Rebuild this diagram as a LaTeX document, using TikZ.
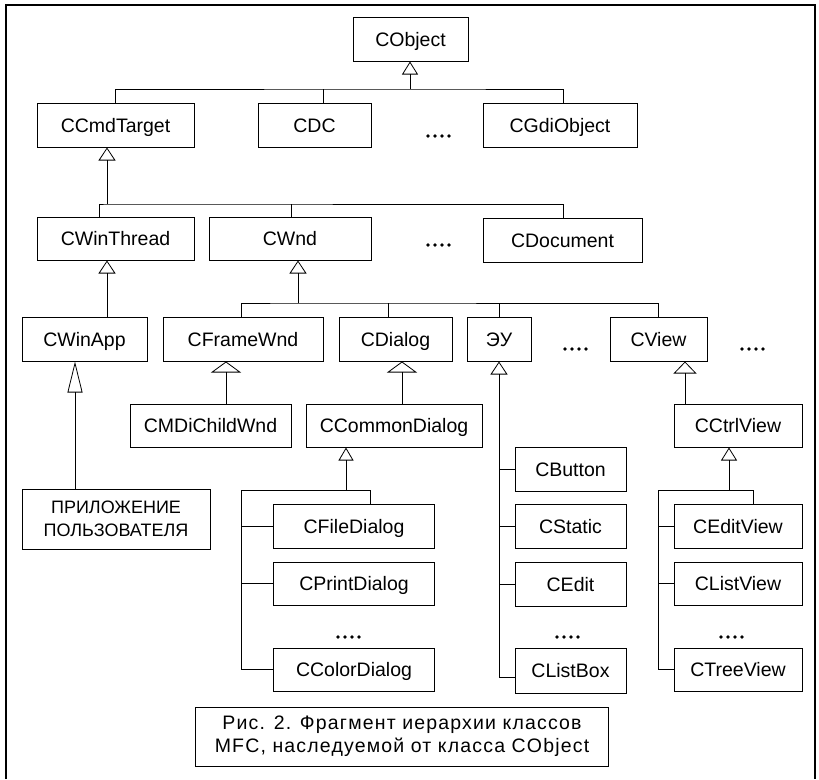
\documentclass[tikz,border=0pt]{standalone}
\usepackage{fontspec}
\setmainfont{Liberation Sans}
\usetikzlibrary{arrows.meta}
\begin{document}
\begin{tikzpicture}[x=1pt,y=-1pt,
  box/.style={draw, line width=1pt, minimum height=44pt, inner sep=0pt, text height=14pt, text depth=0pt, font=\fontsize{19.5}{21}\selectfont},
  twoline/.style={text height=, text depth=, align=center},
  conn/.style={line width=0.8pt},
  inh/.style={line width=0.8pt, -{Triangle[open, width=#1, length=13pt, line width=0.8pt]}},
  inh/.default=17pt,
  dot/.style={fill, circle, inner sep=0pt, minimum size=3.8pt},
  frame/.style={line width=1.2pt}]
\useasboundingbox (0,0) rectangle (819,779);
% frame
\draw[frame] (6,779) -- (6,5) -- (815,5) -- (815,779);
% row 0
\node[box, minimum width=115pt] (cobj) at (410.5,39) {CObject};
% row 1
\node[box, minimum width=157pt] (cmd) at (115.5,125) {CCmdTarget};
\node[box, minimum width=113pt] (cdc) at (314.5,125) {CDC};
\node[box, minimum width=154pt] (gdi) at (560,125) {CGdiObject};
% row 2
\node[box, minimum width=157pt, minimum height=43pt] (thr) at (115.5,238.5) {CWinThread};
\node[box, minimum width=162pt, minimum height=43pt] (wnd) at (290,238.5) {CWnd};
\node[box, minimum width=159pt] (doc) at (562.5,240) {CDocument};
% row 3
\node[box, minimum width=125pt] (app) at (84.5,339) {CWinApp};
\node[box, minimum width=160pt] (frm) at (243,339) {CFrameWnd};
\node[box, minimum width=113pt] (dlg) at (395.5,339) {CDialog};
\node[box, minimum width=64pt] (eu) at (499,339) {ЭУ};
\node[box, minimum width=97pt] (view) at (658.5,339) {CView};
% row 4
\node[box, twoline, minimum width=188pt, minimum height=60pt, font=\fontsize{18}{23}\selectfont] (usr) at (116,519) {ПРИЛОЖЕНИЕ\\ПОЛЬЗОВАТЕЛЯ};
\node[box, minimum width=161pt, minimum height=43pt] (mdi) at (210.5,425.5) {CMDiChildWnd};
\node[box, minimum width=176pt, minimum height=43pt] (cdl) at (394,425.5) {CCommonDialog};
\node[box, minimum width=128pt, minimum height=43pt] (ctv) at (738,425.5) {CCtrlView};
% dialogs column
\node[box, minimum width=161pt] (fdl) at (354,526) {CFileDialog};
\node[box, minimum width=161pt, minimum height=43pt] (pdl) at (354,583.5) {CPrintDialog};
\node[box, minimum width=161pt, minimum height=43pt] (coldl) at (354,669.5) {CColorDialog};
% controls column
\node[box, minimum width=111pt] (btn) at (570.5,469) {CButton};
\node[box, minimum width=111pt] (sta) at (570.5,526) {CStatic};
\node[box, minimum width=111pt] (edt) at (570.5,584) {CEdit};
\node[box, minimum width=111pt, minimum height=45pt] (lbx) at (570.5,670.5) {CListBox};
% views column
\node[box, minimum width=128pt] (ev) at (738,526) {CEditView};
\node[box, minimum width=128pt, minimum height=43pt] (lv) at (738,583.5) {CListView};
\node[box, minimum width=128pt, minimum height=43pt] (tv) at (738,669.5) {CTreeView};
% caption
\node[box, twoline, minimum width=413pt, minimum height=59pt, font=\fontsize{19.5}{23}\selectfont\addfontfeatures{LetterSpace=6}] (cap) at (402,736.5) {Рис. 2. Фрагмент иерархии классов\\MFC, наследуемой от класса CObject};

% coordinates for buses
\coordinate (b0) at (410,89);
\coordinate (b1) at (107,204);
\coordinate (b2) at (298,303);
\coordinate (b3) at (346,490);
\coordinate (b4) at (729,490);
\coordinate (e0) at (499,677);

% level 0 -> 1
\draw[inh=16pt] (b0) -- (b0 |- cobj.south);
\draw[conn] (cmd.north -| 115,0) |- (b0) -| (gdi.north -| 563,0);
\draw[conn] (cdc.north -| 323,0) -- (323,89);
% CCmdTarget -> row2
\draw[inh] (b1) -- (b1 |- cmd.south);
\draw[conn] (thr.north -| 99,0) |- (b1) -| (doc.north -| 563,0);
\draw[conn] (wnd.north -| 291,0) -- (291,204);
% CWinThread -> CWinApp
\draw[inh] (app.north -| 107,0) -- (thr.south -| 107,0);
% CWnd -> row3
\draw[inh] (b2) -- (b2 |- wnd.south);
\draw[conn] (frm.north -| 241,0) |- (b2) -| (view.north -| 658,0);
\draw[conn] (dlg.north -| 388,0) -- (388,303);
\draw[conn] (eu.north) -- (499,303);
% CWinApp -> user app
\draw[line width=0.8pt, -{Triangle[open, width=15pt, length=31pt, line width=0.8pt]}] (usr.north -| 75,0) -- (app.south -| 75,0);
% CFrameWnd -> CMDiChildWnd
\draw[line width=0.8pt, -{Triangle[open, width=30pt, length=11pt, line width=0.8pt]}] (mdi.north -| 226,0) -- (frm.south -| 226,0);
% CDialog -> CCommonDialog
\draw[line width=0.8pt, -{Triangle[open, width=30pt, length=11pt, line width=0.8pt]}] (cdl.north -| 402,0) -- (dlg.south -| 402,0);
% CCommonDialog -> dialogs
\draw[inh=15pt] (b3) -- (b3 |- cdl.south);
\draw[conn] (coldl.west) -| (241,490) -| (fdl.north -| 370,0);
\draw[conn] (241,526) -- (fdl.west);
\draw[conn] (241,583.5) -- (pdl.west);
% ЭУ -> controls
\draw[inh] (e0) -- (e0 |- eu.south);
\draw[conn] (e0) -- (lbx.west |- e0);
\draw[conn] (499,469) -- (btn.west);
\draw[conn] (499,526) -- (sta.west);
\draw[conn] (499,584) -- (edt.west);
% CView -> CCtrlView
\draw[line width=0.8pt, -{Triangle[open, width=23pt, length=12pt, line width=0.8pt]}] (ctv.north -| 685,0) -- (view.south -| 685,0);
% CCtrlView -> views
\draw[inh=16pt] (b4) -- (b4 |- ctv.south);
\draw[conn] (tv.west) -| (658,490) -| (ev.north -| 753,0);
\draw[conn] (658,526) -- (ev.west);
\draw[conn] (658,583.5) -- (lv.west);

% ellipses
\foreach \x/\y in {428/136, 428/245, 565/349, 742/349, 338/637, 557/637, 721/637}{
  \foreach \i in {0,1,2,3}{
    \node[dot] at (\x+\i*7,\y) {};
  }
}
\end{tikzpicture}
\end{document}
